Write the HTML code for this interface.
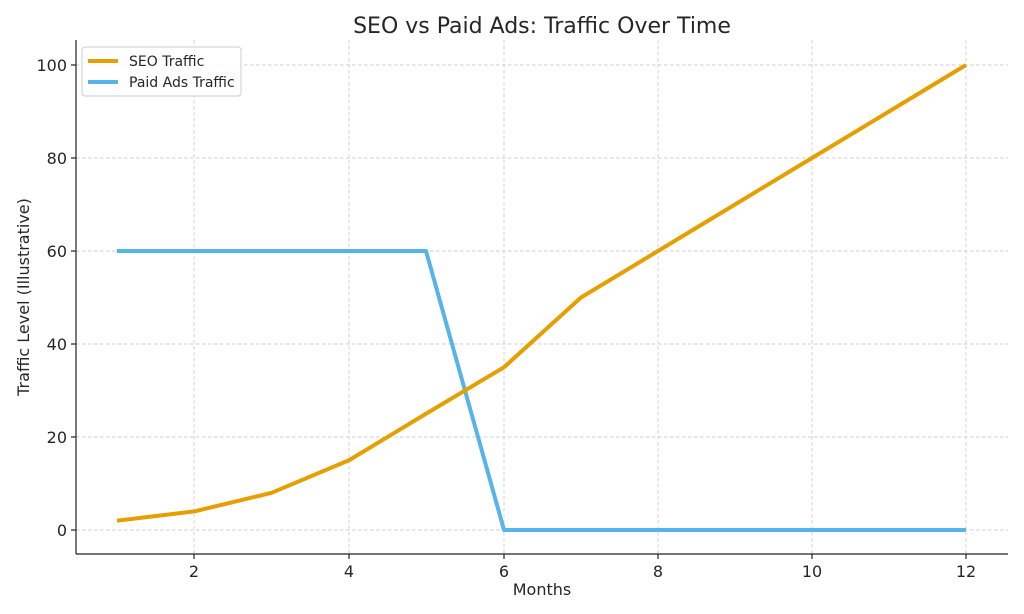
<!DOCTYPE html>
<html><head><meta charset="utf-8"><style>body{margin:0;background:#fff}svg{display:block}text{font-family:"DejaVu Sans","Liberation Sans",sans-serif;fill:#262626}</style></head><body>
<svg width="1024" height="614" viewBox="0 0 1024 614">
<g stroke="#cfcfcf" stroke-width="0.9" stroke-dasharray="3.5,2.5">
<line x1="194" y1="40" x2="194" y2="554"/><line x1="349" y1="40" x2="349" y2="554"/><line x1="504" y1="40" x2="504" y2="554"/><line x1="658" y1="40" x2="658" y2="554"/><line x1="812" y1="40" x2="812" y2="554"/><line x1="966" y1="40" x2="966" y2="554"/>
<line x1="76" y1="530" x2="1008" y2="530"/><line x1="76" y1="437" x2="1008" y2="437"/><line x1="76" y1="344" x2="1008" y2="344"/><line x1="76" y1="251" x2="1008" y2="251"/><line x1="76" y1="158" x2="1008" y2="158"/><line x1="76" y1="65" x2="1008" y2="65"/>
</g>
<g stroke="#222" stroke-width="1.2">
<line x1="76" y1="40" x2="76" y2="554"/><line x1="76" y1="554" x2="1008" y2="554"/>
<line x1="194" y1="554" x2="194" y2="559"/><line x1="349" y1="554" x2="349" y2="559"/><line x1="504" y1="554" x2="504" y2="559"/><line x1="658" y1="554" x2="658" y2="559"/><line x1="812" y1="554" x2="812" y2="559"/><line x1="966" y1="554" x2="966" y2="559"/>
<line x1="71" y1="530" x2="76" y2="530"/><line x1="71" y1="437" x2="76" y2="437"/><line x1="71" y1="344" x2="76" y2="344"/><line x1="71" y1="251" x2="76" y2="251"/><line x1="71" y1="158" x2="76" y2="158"/><line x1="71" y1="65" x2="76" y2="65"/>
</g>
<g font-size="16" text-anchor="middle">
<text x="194" y="577">2</text><text x="349" y="577">4</text><text x="504" y="577">6</text><text x="658" y="577">8</text><text x="812" y="577">10</text><text x="966" y="577">12</text>
</g>
<g font-size="16" text-anchor="end">
<text x="67" y="536">0</text><text x="67" y="443">20</text><text x="67" y="350">40</text><text x="67" y="257">60</text><text x="67" y="164">80</text><text x="67" y="71">100</text>
</g>
<text x="542" y="595" font-size="16" text-anchor="middle">Months</text>
<text transform="translate(29,297) rotate(-90)" font-size="16" text-anchor="middle">Traffic Level (Illustrative)</text>
<text x="542" y="33" font-size="22" text-anchor="middle">SEO vs Paid Ads: Traffic Over Time</text>
<polyline fill="none" stroke="#56b4e9" stroke-width="4" stroke-linejoin="round" points="117,251 194.3,251 271.6,251 349,251 426,251 504,530 581,530 658,530 735,530 812,530 889,530 966,530"/>
<polyline fill="none" stroke="#e69f00" stroke-width="4" stroke-linejoin="round" points="117,520.7 194.3,511.4 271.6,492.8 349,460.25 426,413.75 504,367.25 581,297.5 658,251 735,204.5 812,158 889,111.5 966,65"/>
<rect x="82" y="47" width="159" height="49" rx="3" fill="#fff" fill-opacity="0.85" stroke="#ccc"/>
<line x1="88" y1="61" x2="118" y2="61" stroke="#e69f00" stroke-width="4"/>
<line x1="88" y1="82" x2="118" y2="82" stroke="#56b4e9" stroke-width="4"/>
<text x="129" y="66" font-size="14">SEO Traffic</text>
<text x="129" y="87" font-size="14">Paid Ads Traffic</text>
</svg></body></html>
